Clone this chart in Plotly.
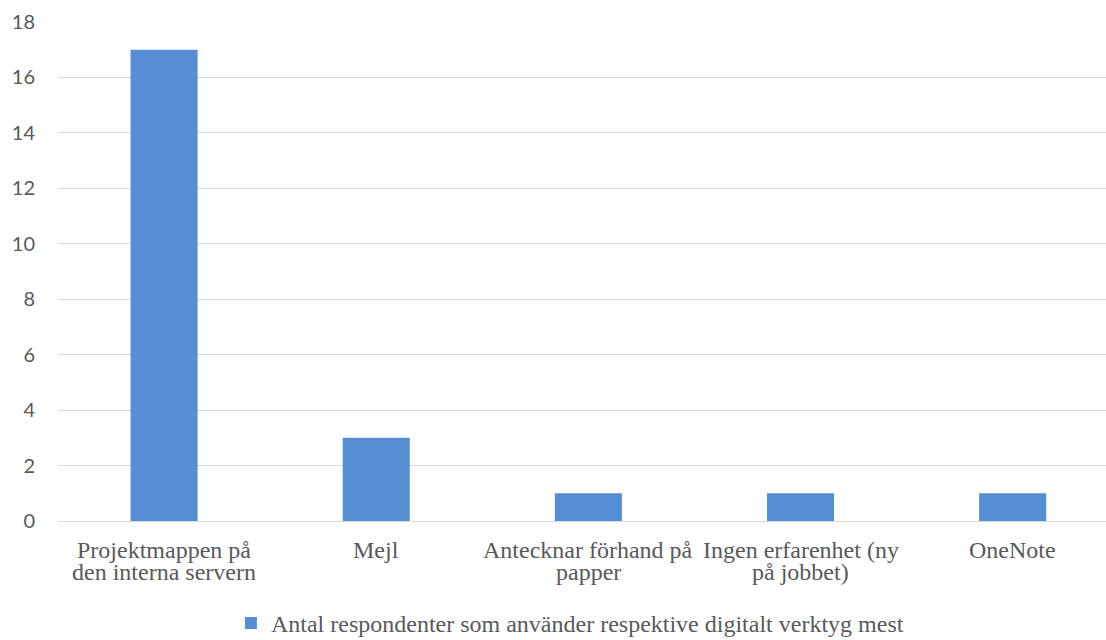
import plotly.graph_objects as go

categories = [
    "Projektmappen på<br>den interna servern",
    "Mejl",
    "Antecknar förhand på<br>papper",
    "Ingen erfarenhet (ny<br>på jobbet)",
    "OneNote",
]
values = [17, 3, 1, 1, 1]
series_name = "Antal respondenter som använder respektive digitalt verktyg mest"
y_ticks = [0, 2, 4, 6, 8, 10, 12, 14, 16, 18]

bar_color = "#558ED5"
text_color = "#595959"
grid_color = "#D9D9D9"

label_font = dict(family="Liberation Serif", size=24, color=text_color)
first_line_offset = 29   # px below the axis for the first label line
line_step = 22           # tight line spacing for wrapped category labels

fig = go.Figure(
    go.Bar(
        x=list(range(len(categories))),
        y=values,
        name=series_name,
        marker=dict(color=bar_color, line=dict(width=0)),
        showlegend=True,
    )
)

# Category labels, one annotation per wrapped line so the line spacing stays tight
for i, label in enumerate(categories):
    for j, line in enumerate(label.split("<br>")):
        fig.add_annotation(
            x=i,
            xref="x",
            y=0,
            yref="paper",
            text=line,
            showarrow=False,
            xanchor="center",
            yanchor="middle",
            yshift=-(first_line_offset + j * line_step),
            font=label_font,
        )

fig.update_layout(
    width=1106,
    height=640,
    margin=dict(l=58, r=0, t=22, b=119, autoexpand=False),
    paper_bgcolor="white",
    plot_bgcolor="white",
    bargap=0.684,
    xaxis=dict(
        tickmode="array",
        tickvals=list(range(len(categories))),
        ticktext=categories,
        showticklabels=False,
        range=[-0.5, 4.44],
        showgrid=False,
        zeroline=False,
        showline=False,
        ticks="",
    ),
    yaxis=dict(
        range=[0, 18],
        tickvals=y_ticks,
        showgrid=True,
        gridcolor=grid_color,
        gridwidth=1,
        zeroline=True,
        zerolinecolor=grid_color,
        zerolinewidth=1,
        showline=False,
        ticks="",
        ticklabelstandoff=22,
        tickfont=dict(family="Lato", size=20, color=text_color),
    ),
    legend=dict(
        orientation="h",
        x=0.165,
        xanchor="left",
        yref="container",
        y=0.026,
        yanchor="middle",
        font=dict(family="Liberation Serif", size=24, color=text_color),
        itemwidth=30,
    ),
)

fig.write_html("out.html")
